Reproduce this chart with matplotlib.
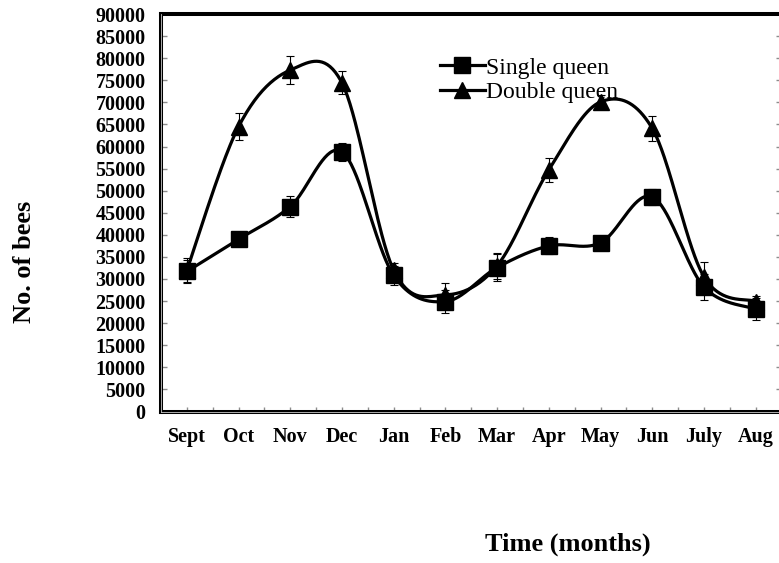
import numpy as np
import matplotlib
matplotlib.use("Agg")
import matplotlib.pyplot as plt
from matplotlib.lines import Line2D

months = ["Sept", "Oct", "Nov", "Dec", "Jan", "Feb", "Mar", "Apr", "May", "Jun", "July", "Aug"]
single_queen = [31700, 39000, 46400, 58800, 30800, 24900, 32600, 37500, 38200, 48600, 28200, 23200]
single_err = [2500, 500, 2400, 2100, 2200, 2700, 3000, 1900, 500, 1800, 3000, 2500]
double_queen = [32000, 64500, 77300, 74400, 32000, 26400, 33000, 54700, 70100, 64100, 30500, 24900]
double_err = [2700, 3000, 3200, 2600, 1700, 2800, 3000, 2700, 1600, 2800, 3300, 1200]
y_ticks = list(range(0, 90001, 5000))

plt.rcParams["font.family"] = ["Liberation Serif", "DejaVu Serif"]


def smooth(xs, ys, n=40):
    """Cubic Bezier smoothing through every point (spreadsheet-style smoothed line)."""
    pts = np.column_stack([xs, ys]).astype(float)
    padded = np.vstack([pts[0], pts, pts[-1]])
    t = np.linspace(0, 1, n)[:, None]
    parts = []
    for i in range(len(pts) - 1):
        p0, p1, p2, p3 = padded[i], padded[i + 1], padded[i + 2], padded[i + 3]
        c1 = p1 + (p2 - p0) / 6.0
        c2 = p2 - (p3 - p1) / 6.0
        seg = (1 - t) ** 3 * p1 + 3 * (1 - t) ** 2 * t * c1 + 3 * (1 - t) * t ** 2 * c2 + t ** 3 * p2
        parts.append(seg if i == 0 else seg[1:])
    return np.vstack(parts)


W, H = 779, 563
fig = plt.figure(figsize=(W / 100, H / 100), dpi=100)
left, right, top, bottom = 161, 781.5, 14, 411.5
ax = fig.add_axes([left / W, 1 - bottom / H, (right - left) / W, (bottom - top) / H])

x = np.arange(1, len(months) + 1)
lw = 2.3
ms = 11

for vals, errs, mk in [(single_queen, single_err, "s"), (double_queen, double_err, "^")]:
    curve = smooth(x, vals)
    ax.plot(curve[:, 0], curve[:, 1], color="black", lw=lw, solid_capstyle="round", zorder=3)
    ax.errorbar(x, vals, yerr=errs, fmt="none", ecolor="black", elinewidth=0.8,
                capsize=3.2, capthick=0.8, zorder=4)
    ax.plot(x, vals, linestyle="none", marker=mk, markersize=ms, color="black", zorder=5)

ax.set_xlim(0.5, 12.5)
ax.set_ylim(0, 90000)
ax.set_yticks(y_ticks)
ax.set_yticklabels([str(v) for v in y_ticks])
ax.set_xticks(x)
ax.set_xticklabels(months)
ax.set_xticks(np.arange(1.5, 12.5, 1.0), minor=True)

ax.tick_params(axis="both", which="both", direction="in", color="#8c8c8c", width=1.0)
ax.tick_params(axis="y", length=4.5, right=True, labelsize=14.5, pad=11)
ax.tick_params(axis="x", which="major", length=3.5, labelsize=14.5, pad=11)
ax.tick_params(axis="x", which="minor", length=3.5)
for lab in ax.get_xticklabels() + ax.get_yticklabels():
    lab.set_fontweight("bold")

for s in ax.spines.values():
    s.set_linewidth(2.9)
    s.set_color("black")
# light inner line along left and bottom frame
ax.plot([0, 0], [0, 1], transform=ax.transAxes, color="#c8c8c8", lw=0.6, clip_on=False, zorder=6)
ax.plot([0, 1], [0, 0], transform=ax.transAxes, color="#c8c8c8", lw=0.6, clip_on=False, zorder=6)

ax.set_xlabel("Time (months)", fontsize=19, fontweight="bold")
ax.xaxis.set_label_coords((568 - left) / (right - left), (bottom - 544) / (bottom - top))
ax.xaxis.label.set_va("center")
ax.set_ylabel("No. of bees", fontsize=19, fontweight="bold")
ax.yaxis.set_label_coords((25 - left) / (right - left), (bottom - 262) / (bottom - top))
ax.yaxis.label.set_va("center")

handles = [
    Line2D([], [], color="black", lw=lw, marker="s", markersize=ms),
    Line2D([], [], color="black", lw=lw, marker="^", markersize=ms),
]
ax.legend(handles, ["Single queen", "Double queen"], loc="upper left",
          bbox_to_anchor=(440 / W, 1 - 57 / H), bbox_transform=fig.transFigure,
          frameon=False, prop={"size": 17}, handlelength=1.9, handletextpad=0.05,
          borderpad=0, borderaxespad=0, labelspacing=0.12)

fig.savefig("out.png", dpi=100)
